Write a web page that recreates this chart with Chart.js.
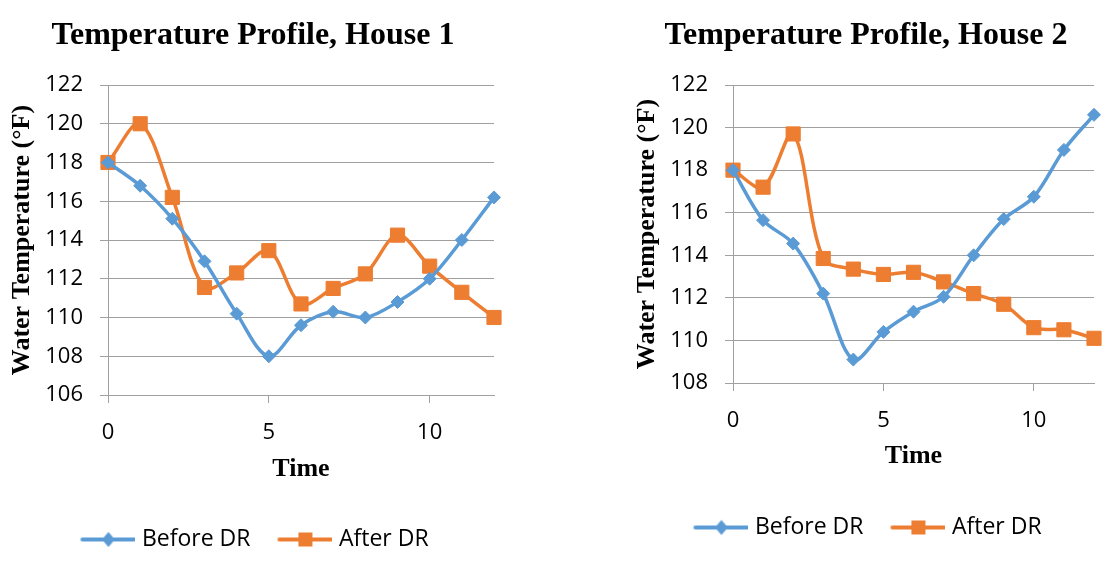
<!DOCTYPE HTML>
<html lang="en">
<head>
    <meta charset="UTF-8">
    <title>Temperature Profile</title>
    <script src="https://cdn.jsdelivr.net/npm/chart.js"></script>
    <style>
        html, body { margin: 0; padding: 0; background: #fff; overflow: hidden; }
        .box { position: absolute; top: 0; height: 561px; }
        #left { left: 0; width: 506px; }
        #right { left: 620px; width: 492px; }
    </style>
</head>
<body>
<div class="box" id="left"><canvas id="house1" width="506" height="561"></canvas></div>
<div class="box" id="right"><canvas id="house2" width="492" height="561"></canvas></div>

<script>
    // time steps (x axis) and tick labels
    const times = [0, 1, 2, 3, 4, 5, 6, 7, 8, 9, 10, 11, 12];
    const xTicks = [0, 5, 10];

    // House 1 water temperature (°F)
    const house1Before = [118, 116.8, 115.1, 112.9, 110.2, 108, 109.6, 110.3, 110, 110.8, 112, 114, 116.2];
    const house1After = [118, 120, 116.2, 111.55, 112.3, 113.45, 110.7, 111.5, 112.25, 114.25, 112.65, 111.3, 110];
    const house1YTicks = [106, 108, 110, 112, 114, 116, 118, 120, 122];

    // House 2 water temperature (°F)
    const house2Before = [118, 115.65, 114.55, 112.2, 109.1, 110.4, 111.35, 112.05, 114, 115.7, 116.75, 118.95, 120.6];
    const house2After = [118, 117.2, 119.7, 113.85, 113.35, 113.1, 113.2, 112.75, 112.2, 111.7, 110.6, 110.5, 110.1];
    const house2YTicks = [108, 110, 112, 114, 116, 118, 120, 122];

    const blue = '#5b9bd5';
    const orange = '#ed7d31';
    const gridGray = '#a0a0a0';
    const sansFont = "'Open Sans', 'Liberation Sans', sans-serif";
    const serifFont = "'Liberation Serif', 'DejaVu Serif', serif";

    // legend marker: line with a diamond or square in the middle
    function legendMarker(color, shape) {
        const c = document.createElement('canvas');
        c.width = 63;
        c.height = 18;
        const g = c.getContext('2d');
        g.strokeStyle = color;
        g.fillStyle = color;
        g.lineWidth = 4;
        g.lineCap = 'round';
        g.beginPath();
        g.moveTo(10, 9);
        g.lineTo(62, 9);
        g.stroke();
        const cx = 36;
        if (shape === 'diamond') {
            g.beginPath();
            g.moveTo(cx, 1.5);
            g.lineTo(cx + 6.5, 9);
            g.lineTo(cx, 16.5);
            g.lineTo(cx - 6.5, 9);
            g.closePath();
            g.fill();
        } else {
            g.fillRect(cx - 7, 2, 14, 14);
        }
        return c;
    }
    const markerBefore = legendMarker(blue, 'diamond');
    const markerAfter = legendMarker(orange, 'square');

    function toPoints(values) {
        return times.map((t, i) => ({ x: t, y: values[i] }));
    }

    function makeChart(id, title, before, after, yTicks, sizes) {
        const ctx = document.getElementById(id).getContext('2d');
        return new Chart(ctx, {
            type: 'line',
            data: {
                datasets: [{
                    label: 'Before DR',
                    data: toPoints(before),
                    borderColor: blue,
                    backgroundColor: blue,
                    borderWidth: 3.5,
                    pointStyle: 'rectRot',
                    pointRadius: 6.5,
                    pointBorderWidth: 1,
                    tension: 0.33,
                    clip: false
                }, {
                    label: 'After DR',
                    data: toPoints(after),
                    borderColor: orange,
                    backgroundColor: orange,
                    borderWidth: 3.5,
                    pointStyle: 'rect',
                    pointRadius: 10,
                    pointBorderWidth: 1,
                    tension: 0.33,
                    clip: false
                }]
            },
            options: {
                responsive: false,
                animation: false,
                layout: { padding: { left: sizes.left, right: sizes.right, top: 0, bottom: sizes.bottom } },
                plugins: {
                    tooltip: { enabled: false },
                    title: {
                        display: true,
                        text: title,
                        color: '#000',
                        font: { family: serifFont, size: 32, weight: 'bold' },
                        padding: { top: 17, bottom: 29.6 }
                    },
                    legend: {
                        position: 'bottom',
                        labels: {
                            color: '#000',
                            font: { family: sansFont, size: 23 },
                            usePointStyle: true,
                            pointStyleWidth: 53,
                            padding: 24,
                            generateLabels: chart => {
                                const items = Chart.defaults.plugins.legend.labels.generateLabels(chart);
                                items[0].pointStyle = markerBefore;
                                items[1].pointStyle = markerAfter;
                                return items;
                            }
                        }
                    }
                },
                scales: {
                    x: {
                        type: 'linear',
                        min: 0,
                        max: 12,
                        afterBuildTicks: scale => { scale.ticks = xTicks.map(v => ({ value: v })); },
                        afterFit: scale => { scale.height = sizes.xHeight; },
                        grid: { drawOnChartArea: false, drawTicks: true, tickLength: 8, color: gridGray },
                        border: { color: gridGray },
                        ticks: { color: '#000', padding: 17, maxRotation: 0, font: { family: sansFont, size: 22 } },
                        title: {
                            display: true,
                            text: 'Time',
                            color: '#000',
                            font: { family: serifFont, size: 26, weight: 'bold' },
                            padding: { top: 0, bottom: sizes.timePad }
                        }
                    },
                    y: {
                        min: yTicks[0],
                        max: yTicks[yTicks.length - 1],
                        afterBuildTicks: scale => { scale.ticks = yTicks.map(v => ({ value: v })); },
                        afterFit: scale => { scale.width = sizes.yWidth; },
                        grid: { drawTicks: true, tickLength: 8, color: gridGray },
                        border: { color: gridGray },
                        ticks: { color: '#000', padding: 17, font: { family: sansFont, size: 22 } },
                        title: {
                            display: true,
                            text: 'Water Temperature (°F)',
                            color: '#000',
                            font: { family: serifFont, size: 26, weight: 'bold', lineHeight: 0.8 },
                            padding: { top: sizes.yTitlePad, bottom: 0 }
                        }
                    }
                }
            }
        });
    }

    makeChart('house1', 'Temperature Profile, House 1', house1Before, house1After, house1YTicks,
        { left: 12, right: 12, bottom: 0, xHeight: 109, yWidth: 96, timePad: 19, yTitlePad: -0.4 });
    makeChart('house2', 'Temperature Profile, House 2', house2Before, house2After, house2YTicks,
        { left: 18, right: 18, bottom: 12, xHeight: 109, yWidth: 95, timePad: 20, yTitlePad: -1.4 });
</script>
</body>
</html>
